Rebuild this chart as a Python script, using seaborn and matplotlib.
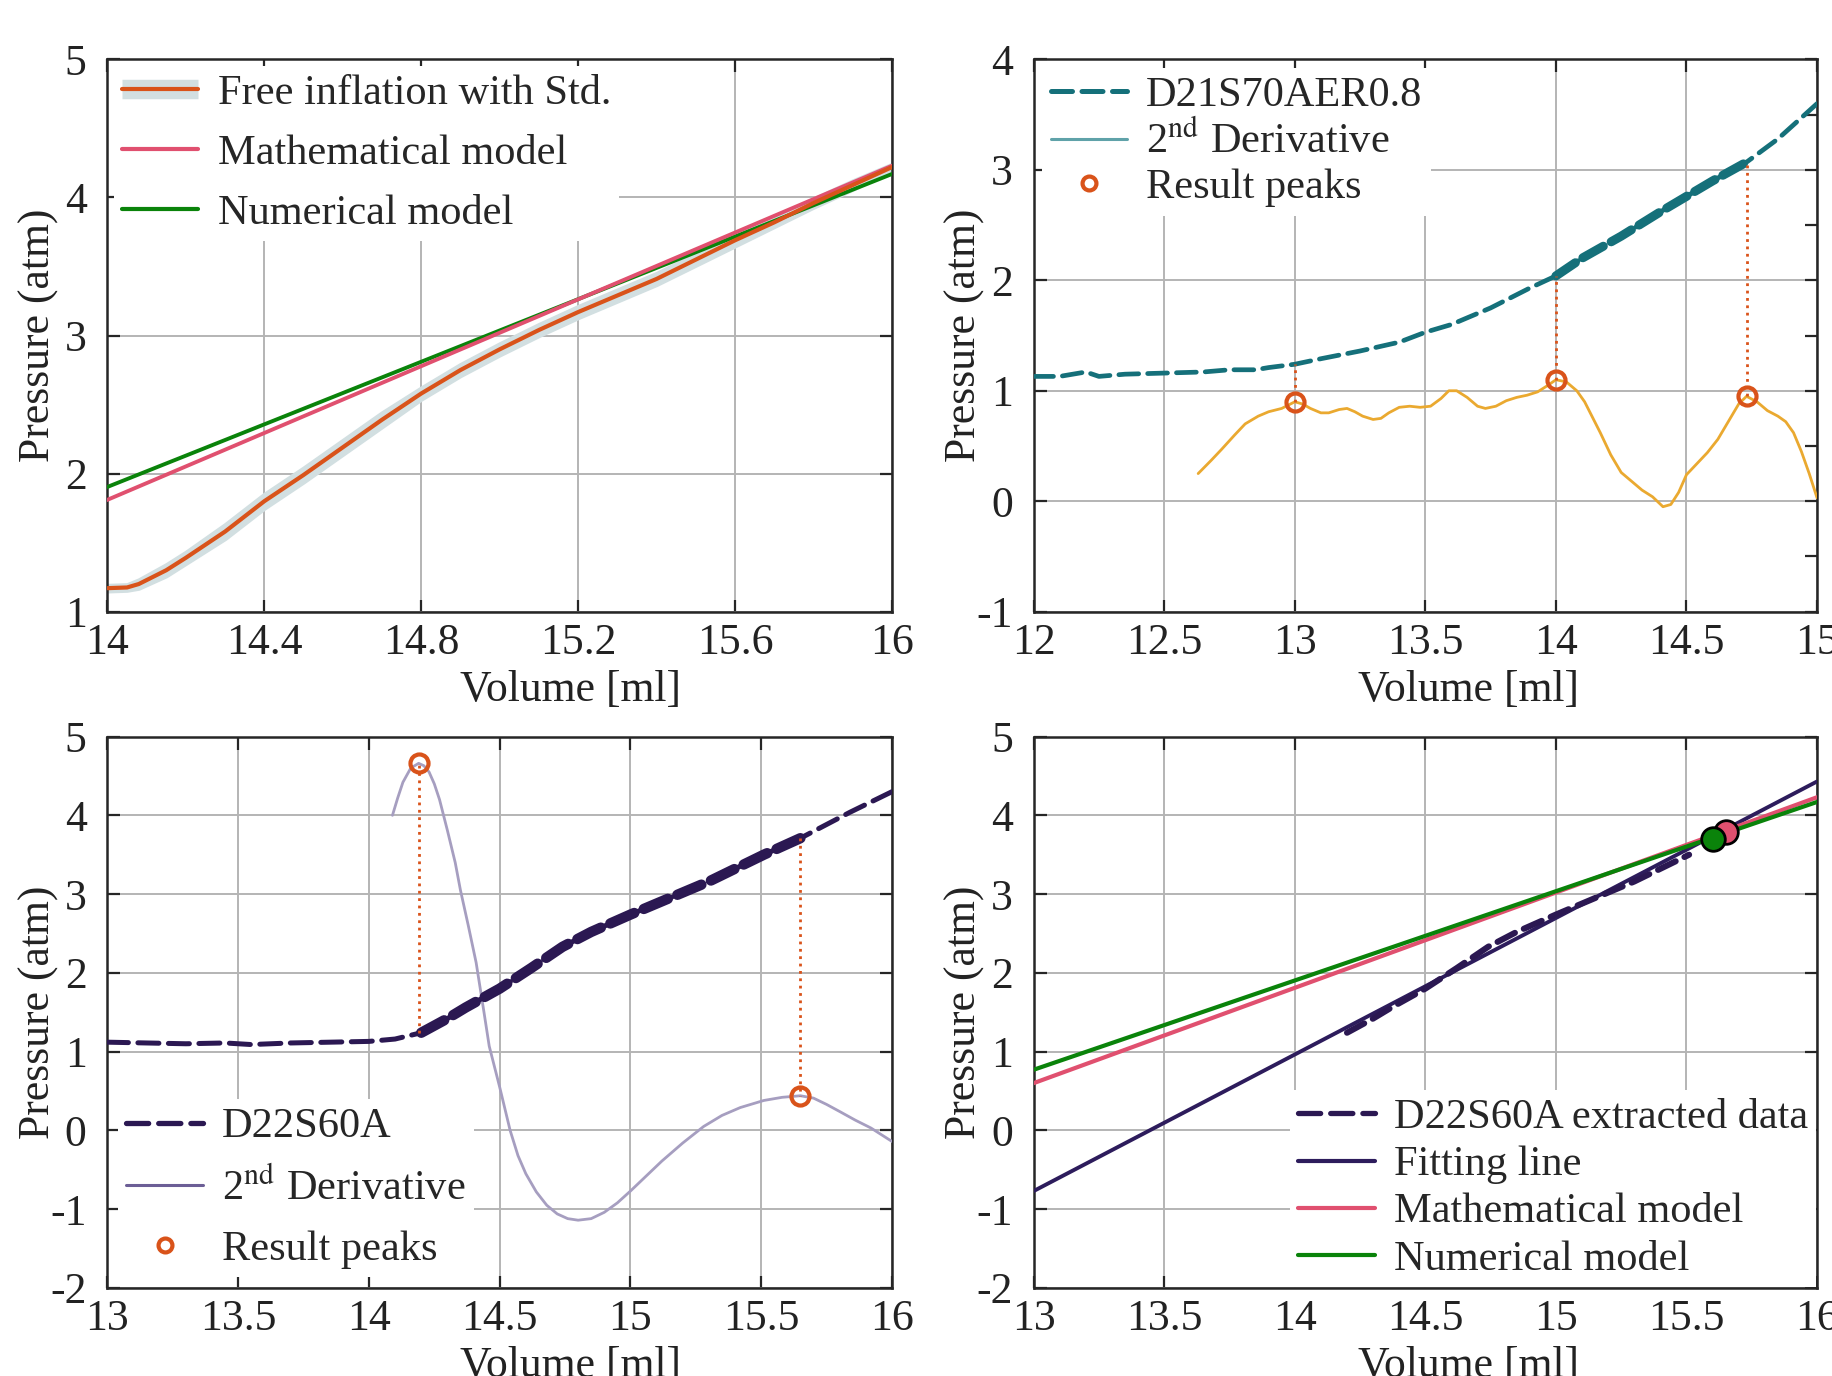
import matplotlib
matplotlib.use("Agg")
import numpy as np
import matplotlib.pyplot as plt
import seaborn as sns
from matplotlib.lines import Line2D
from matplotlib.ticker import MultipleLocator

# ---------------- data ----------------
# top-left: free inflation vs models
fi_vol = [14.00, 14.05, 14.08, 14.15, 14.20, 14.30, 14.40, 14.50, 14.60, 14.70, 14.80,
          14.90, 15.00, 15.10, 15.20, 15.30, 15.40, 15.50, 15.60, 15.70, 15.80, 15.90, 16.00]
fi_pres = [1.17, 1.175, 1.20, 1.30, 1.39, 1.58, 1.80, 1.99, 2.19, 2.39, 2.58,
           2.75, 2.90, 3.04, 3.17, 3.29, 3.41, 3.55, 3.69, 3.82, 3.96, 4.09, 4.22]
fi_std = [0.02, 0.02, 0.03, 0.04, 0.04, 0.05, 0.05, 0.05, 0.05, 0.05, 0.04,
          0.04, 0.04, 0.04, 0.04, 0.04, 0.04, 0.04, 0.04, 0.03, 0.03, 0.03, 0.02]
math_vol = [13.0, 16.0]
math_pres = [0.60, 4.23]
num_vol = [13.0, 16.0]
num_pres = [0.77, 4.17]

# top-right: D21S70AER0.8
d21_vol = [12.00, 12.10, 12.15, 12.20, 12.25, 12.35, 12.50, 12.65, 12.75, 12.85, 12.90,
           13.00, 13.10, 13.25, 13.40, 13.50, 13.60, 13.75, 13.90, 14.00, 14.10, 14.25,
           14.40, 14.50, 14.60, 14.73, 14.85, 15.00]
d21_pres = [1.13, 1.13, 1.15, 1.17, 1.13, 1.15, 1.16, 1.17, 1.19, 1.19, 1.21,
            1.24, 1.29, 1.36, 1.44, 1.53, 1.60, 1.75, 1.93, 2.04, 2.20, 2.40,
            2.62, 2.76, 2.90, 3.07, 3.28, 3.60]
d21_der_vol = [12.63, 12.68, 12.72, 12.77, 12.81, 12.86, 12.90, 12.95, 13.00, 13.03, 13.06,
               13.10, 13.13, 13.17, 13.20, 13.23, 13.26, 13.30, 13.33, 13.36, 13.40, 13.44,
               13.48, 13.52, 13.56, 13.59, 13.62, 13.66, 13.70, 13.73, 13.77, 13.81, 13.85,
               13.89, 13.93, 13.97, 14.00, 14.04, 14.08, 14.11, 14.14, 14.17, 14.21, 14.25,
               14.29, 14.33, 14.37, 14.41, 14.44, 14.47, 14.50, 14.54, 14.58, 14.62, 14.67,
               14.70, 14.73, 14.77, 14.81, 14.85, 14.88, 14.91, 14.94, 14.97, 15.00]
d21_der = [0.25, 0.37, 0.47, 0.60, 0.70, 0.77, 0.81, 0.84, 0.90, 0.88, 0.84,
           0.80, 0.80, 0.83, 0.84, 0.81, 0.77, 0.74, 0.75, 0.80, 0.85, 0.86,
           0.85, 0.86, 0.93, 1.00, 1.00, 0.94, 0.86, 0.84, 0.86, 0.91, 0.94,
           0.96, 0.99, 1.05, 1.10, 1.08, 1.00, 0.90, 0.76, 0.62, 0.42, 0.26,
           0.18, 0.10, 0.04, -0.05, -0.03, 0.08, 0.24, 0.34, 0.44, 0.56, 0.76,
           0.88, 0.95, 0.90, 0.82, 0.77, 0.72, 0.62, 0.45, 0.25, 0.03]
d21_peak_vol = [13.00, 14.00, 14.73]
d21_peak_der = [0.90, 1.10, 0.95]
d21_peak_pres = [1.24, 2.04, 3.07]

# bottom-left: D22S60A
d22_vol = [13.00, 13.15, 13.30, 13.45, 13.55, 13.70, 13.85, 14.00, 14.10, 14.20, 14.30,
           14.37, 14.50, 14.62, 14.74, 14.85, 15.00, 15.15, 15.30, 15.51, 15.65, 15.84, 16.00]
d22_pres = [1.12, 1.11, 1.10, 1.11, 1.09, 1.11, 1.12, 1.13, 1.16, 1.24, 1.42,
            1.56, 1.80, 2.06, 2.33, 2.52, 2.74, 2.95, 3.16, 3.50, 3.71, 4.04, 4.30]
d22_der_vol = [14.09, 14.11, 14.13, 14.16, 14.19, 14.21, 14.23, 14.25, 14.27, 14.30, 14.33,
               14.35, 14.38, 14.41, 14.44, 14.46, 14.50, 14.54, 14.57, 14.60, 14.64, 14.68,
               14.72, 14.76, 14.80, 14.85, 14.90, 14.95, 15.00, 15.06, 15.12, 15.20, 15.28,
               15.35, 15.42, 15.51, 15.58, 15.65, 15.70, 15.75, 15.80, 15.86, 15.92, 16.00]
d22_der = [4.00, 4.22, 4.42, 4.60, 4.66, 4.63, 4.55, 4.40, 4.20, 3.81, 3.40,
           3.05, 2.60, 2.13, 1.50, 1.07, 0.55, 0.00, -0.32, -0.55, -0.78, -0.95,
           -1.06, -1.12, -1.14, -1.12, -1.04, -0.92, -0.77, -0.58, -0.39, -0.16, 0.05,
           0.19, 0.29, 0.38, 0.42, 0.44, 0.41, 0.33, 0.24, 0.13, 0.03, -0.14]
d22_peak_vol = [14.19, 15.65]
d22_peak_der = [4.66, 0.44]
d22_peak_pres = [1.24, 3.71]

# bottom-right: fitting
fit_vol = [13.0, 16.0]
fit_pres = [-0.77, 4.43]
hit_math = (15.65, 3.79)
hit_num = (15.60, 3.70)

# ticks
tl_xticks = [14, 14.4, 14.8, 15.2, 15.6, 16]
tl_xlabels = ["14", "14.4", "14.8", "15.2", "15.6", "16"]
tr_xticks = [12, 12.5, 13, 13.5, 14, 14.5, 15]
tr_xlabels = ["12", "12.5", "13", "13.5", "14", "14.5", "15"]
b_xticks = [13, 13.5, 14, 14.5, 15, 15.5, 16]
b_xlabels = ["13", "13.5", "14", "14.5", "15", "15.5", "16"]

# ---------------- style ----------------
sns.set_theme(style="ticks")
plt.rcParams["font.family"] = ["Liberation Serif", "DejaVu Serif"]
plt.rcParams["mathtext.fontset"] = "stix"
plt.rcParams["axes.unicode_minus"] = False

ORANGE = "#d9531a"
BAND = "#d2dfe1"
PINK = "#e0506f"
GREEN = "#0a830a"
TEAL = "#15707a"
TEAL_LIGHT = "#5fa2a9"
YELLOW = "#eaa930"
NAVY = "#2b1852"
LILAC = "#a69ec0"
LILAC_DARK = "#6c5e96"
FIT = "#2d1c5c"

FS = 31.5
LFS = 30.5

fig = plt.figure(figsize=(18.33, 13.76), dpi=100)
ax_tl = fig.add_axes([0.0586, 0.5555, 0.428, 0.4013])
ax_tr = fig.add_axes([0.5639, 0.5555, 0.4274, 0.4013])
ax_bl = fig.add_axes([0.0586, 0.0640, 0.428, 0.4007])
ax_br = fig.add_axes([0.5639, 0.0640, 0.4274, 0.4007])


def style(ax, xlim, ylim, xticks, xlabels, yticks, xlab_pos):
    ax.set_xlim(*xlim)
    ax.set_ylim(*ylim)
    ax.set_xticks(xticks, xlabels)
    ax.set_yticks(yticks, [str(t) for t in yticks])
    ax.grid(True, color="#b4b4b4", linewidth=1.4)
    ax.set_axisbelow(True)
    ax.tick_params(direction="in", length=9, width=1.6, top=True, right=True,
                   labelsize=FS, colors="#262626", labelcolor="#222222")
    ax.tick_params(axis="x", pad=8)
    ax.tick_params(axis="y", pad=15)
    for s in ax.spines.values():
        s.set_linewidth(1.8)
        s.set_color("#262626")
    ax.set_xlabel("Volume [ml]", fontsize=FS, color="#222222")
    ax.set_ylabel("Pressure (atm)", fontsize=FS, color="#222222")
    ax.yaxis.set_label_coords(-0.062, 0.5)
    ax.xaxis.set_label_coords(xlab_pos, -0.105)
    ax.xaxis.label.set_va("top")


def legend(ax, handles, labels, loc, spacing, pad=0.05):
    leg = ax.legend(handles, labels, loc=loc, fontsize=LFS, frameon=True,
                    facecolor="white", edgecolor="none", framealpha=1, fancybox=False,
                    handlelength=1.8, handletextpad=0.45, labelspacing=spacing,
                    borderpad=0.2, borderaxespad=pad)
    return leg


DASH = (0, (4.2, 1.9))

# ---------------- top-left ----------------
ax = ax_tl
lo = np.array(fi_pres) - np.array(fi_std)
hi = np.array(fi_pres) + np.array(fi_std)
ax.fill_between(fi_vol, lo, hi, color=BAND, linewidth=3, edgecolor=BAND, zorder=2)
sns.lineplot(x=num_vol, y=num_pres, ax=ax, color=GREEN, linewidth=2.8, errorbar=None, zorder=3)
sns.lineplot(x=math_vol, y=math_pres, ax=ax, color=PINK, linewidth=2.8, errorbar=None, zorder=3)
sns.lineplot(x=fi_vol, y=fi_pres, ax=ax, color=ORANGE, linewidth=3.0, errorbar=None, zorder=4)
style(ax, (14, 16), (1, 5), tl_xticks, tl_xlabels, [1, 2, 3, 4, 5], 0.59)
h_fi = (Line2D([], [], color=BAND, linewidth=14, solid_capstyle="butt"),
        Line2D([], [], color=ORANGE, linewidth=3, solid_capstyle="round"))
legend(ax, [h_fi, Line2D([], [], color=PINK, lw=3, solid_capstyle="round"),
            Line2D([], [], color=GREEN, lw=3, solid_capstyle="round")],
       ["Free inflation with Std.", "Mathematical model", "Numerical model"],
       "upper left", 0.5, pad=0.15)

# ---------------- top-right ----------------
ax = ax_tr
sns.lineplot(x=d21_der_vol, y=d21_der, ax=ax, color=YELLOW, linewidth=2.0, errorbar=None, zorder=3)
sns.lineplot(x=d21_vol, y=d21_pres, ax=ax, color=TEAL, linewidth=3.4, errorbar=None,
             linestyle=DASH, dash_capstyle="round", zorder=4)
v = np.array(d21_vol)
seg = (v >= d21_peak_vol[1]) & (v <= d21_peak_vol[2])
sns.lineplot(x=v[seg], y=np.array(d21_pres)[seg], ax=ax, color=TEAL, linewidth=6.5,
             errorbar=None, linestyle=(0, (2.6, 1.0)), dash_capstyle="round", zorder=4)
ax.vlines(d21_peak_vol, d21_peak_der, d21_peak_pres, colors=ORANGE, linestyles=":",
          linewidth=2.0, zorder=5)
ax.plot(d21_peak_vol, d21_peak_der, "o", mfc="none", mec=ORANGE, ms=13, mew=3, zorder=6)
style(ax, (12, 15), (-1, 4), tr_xticks, tr_xlabels, [-1, 0, 1, 2, 3, 4], 0.555)
ax.yaxis.set_minor_locator(MultipleLocator(0.5))
ax.tick_params(axis="y", which="minor", direction="in", length=9, width=1.6,
               left=False, right=True)
legend(ax, [Line2D([], [], color=TEAL, lw=3.6, ls=DASH, dash_capstyle="round"),
            Line2D([], [], color=TEAL_LIGHT, lw=2.2),
            Line2D([], [], ls="none", marker="o", mfc="none", mec=ORANGE, ms=10, mew=3)],
       ["D21S70AER0.8", r"2$^{\mathrm{nd}}$ Derivative", "Result peaks"],
       "upper left", 0.14, pad=0.2)

# ---------------- bottom-left ----------------
ax = ax_bl
sns.lineplot(x=d22_der_vol, y=d22_der, ax=ax, color=LILAC, linewidth=2.0, errorbar=None, zorder=3)
sns.lineplot(x=d22_vol, y=d22_pres, ax=ax, color=NAVY, linewidth=3.6, errorbar=None,
             linestyle=DASH, dash_capstyle="round", zorder=4)
v = np.array(d22_vol)
seg = (v >= d22_peak_vol[0]) & (v <= d22_peak_vol[1])
sns.lineplot(x=v[seg], y=np.array(d22_pres)[seg], ax=ax, color=NAVY, linewidth=7.5,
             errorbar=None, linestyle=(0, (2.5, 1.0)), dash_capstyle="round", zorder=4)
ax.vlines(d22_peak_vol, d22_peak_pres, d22_peak_der, colors=ORANGE, linestyles=":",
          linewidth=2.0, zorder=5)
ax.plot(d22_peak_vol, d22_peak_der, "o", mfc="none", mec=ORANGE, ms=13, mew=3, zorder=6)
style(ax, (13, 16), (-2, 5), b_xticks, b_xlabels, [-2, -1, 0, 1, 2, 3, 4, 5], 0.59)
legend(ax, [Line2D([], [], color=NAVY, lw=3.8, ls=DASH, dash_capstyle="round"),
            Line2D([], [], color=LILAC_DARK, lw=2.2),
            Line2D([], [], ls="none", marker="o", mfc="none", mec=ORANGE, ms=10, mew=3)],
       ["D22S60A", r"2$^{\mathrm{nd}}$ Derivative", "Result peaks"],
       "lower left", 0.5, pad=0.25)

# ---------------- bottom-right ----------------
ax = ax_br
sns.lineplot(x=fit_vol, y=fit_pres, ax=ax, color=FIT, linewidth=2.8, errorbar=None, zorder=3)
v = np.array(d22_vol)
seg = (v >= d22_peak_vol[0]) & (v <= 15.6)
sns.lineplot(x=v[seg], y=np.array(d22_pres)[seg], ax=ax, color=NAVY, linewidth=4.4,
             errorbar=None, linestyle=(0, (3.2, 1.6)), dash_capstyle="round", zorder=3)
sns.lineplot(x=math_vol, y=math_pres, ax=ax, color=PINK, linewidth=3.0, errorbar=None, zorder=4)
sns.lineplot(x=num_vol, y=num_pres, ax=ax, color=GREEN, linewidth=3.0, errorbar=None, zorder=4)
ax.plot([hit_math[0]], [hit_math[1]], "o", mfc=PINK, mec="black", ms=17, mew=2, zorder=6)
ax.plot([hit_num[0]], [hit_num[1]], "o", mfc=GREEN, mec="black", ms=17, mew=2, zorder=7)
style(ax, (13, 16), (-2, 5), b_xticks, b_xlabels, [-2, -1, 0, 1, 2, 3, 4, 5], 0.555)
legend(ax, [Line2D([], [], color=NAVY, lw=3.8, ls=DASH, dash_capstyle="round"),
            Line2D([], [], color=FIT, lw=3, solid_capstyle="round"),
            Line2D([], [], color=PINK, lw=3, solid_capstyle="round"),
            Line2D([], [], color=GREEN, lw=3, solid_capstyle="round")],
       ["D22S60A extracted data", "Fitting line", "Mathematical model", "Numerical model"],
       "lower right", 0.2, pad=0.02)

fig.savefig("out.png", dpi=100, facecolor="white")
